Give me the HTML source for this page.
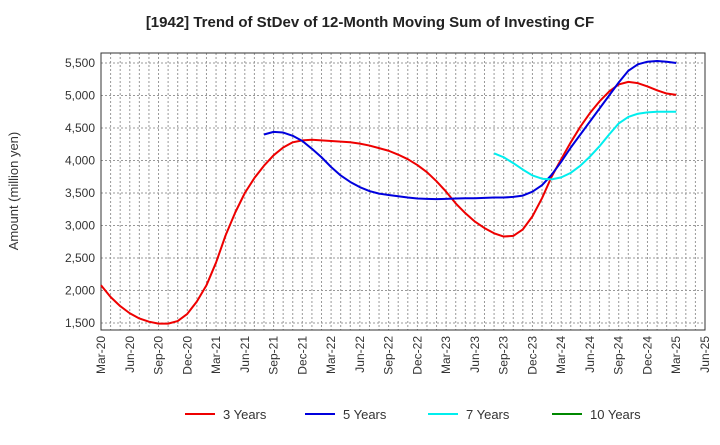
<!DOCTYPE html>
<html><head><meta charset="utf-8"><style>
body{margin:0;background:#fff;font-family:"Liberation Sans",sans-serif}
svg text{font-family:"Liberation Sans",sans-serif}
</style></head><body>
<svg id="c" width="720" height="440">
<text x="370" y="27" text-anchor="middle" font-size="15" font-weight="bold" fill="#222">[1942]  Trend of StDev of 12-Month Moving Sum of Investing CF</text>
<text transform="translate(18,191) rotate(-90)" text-anchor="middle" font-size="13" fill="#333">Amount (million yen)</text>
<g id="grid"></g><g id="axes"></g><g id="series"></g><g id="legend"></g>
</svg>
<script>
const xLabels=["Mar-20","Jun-20","Sep-20","Dec-20","Mar-21","Jun-21","Sep-21","Dec-21","Mar-22","Jun-22","Sep-22","Dec-22","Mar-23","Jun-23","Sep-23","Dec-23","Mar-24","Jun-24","Sep-24","Dec-24","Mar-25","Jun-25"];
const yTicks=[1500,2000,2500,3000,3500,4000,4500,5000,5500];
const s3Start=0;
const s3=[2080,1900,1760,1650,1570,1520,1490,1490,1530,1640,1830,2080,2430,2850,3200,3500,3730,3920,4080,4200,4280,4310,4320,4310,4300,4290,4280,4260,4230,4190,4150,4090,4020,3930,3820,3680,3520,3340,3190,3060,2960,2880,2830,2840,2940,3140,3420,3750,4020,4280,4520,4730,4910,5060,5170,5210,5190,5140,5080,5030,5010];
const s5Start=17;
const s5=[4400,4440,4430,4380,4300,4180,4050,3900,3770,3670,3590,3530,3490,3470,3450,3430,3415,3410,3405,3410,3415,3420,3420,3425,3430,3430,3440,3460,3520,3620,3780,3980,4200,4400,4600,4800,5000,5200,5380,5480,5520,5530,5520,5500];
const s7Start=41;
const s7=[4110,4050,3960,3860,3770,3720,3710,3740,3810,3920,4060,4220,4400,4570,4670,4720,4740,4750,4750,4750];
const NS="http://www.w3.org/2000/svg";
const L=101,R=705,T=53,B=330;
const xm=m=>L+m*(R-L)/63;
const y=v=>63+(5500-v)*65/1000;
function mk(tag,attrs,parent){const e=document.createElementNS(NS,tag);for(const k in attrs)e.setAttribute(k,attrs[k]);document.getElementById(parent).appendChild(e);return e;}
for(let m=1;m<63;m++){const g=mk('line',{x1:xm(m),x2:xm(m),y1:T,y2:B,stroke:'#999','stroke-dasharray':'2,2','stroke-width':1},'grid');

}
yTicks.forEach(v=>{const g=mk('line',{x1:L,x2:R,y1:y(v),y2:y(v),stroke:'#999','stroke-dasharray':'2,2'},'grid');


const t=mk('text',{x:L-6,y:y(v)+4,'text-anchor':'end','font-size':12,fill:'#333'},'axes');t.textContent=v.toLocaleString('en-US');

});
const fr=mk('rect',{x:L,y:T,width:R-L,height:B-T,fill:'none',stroke:'#333','stroke-width':1},'axes');


xLabels.forEach((s,i)=>{const x=xm(i*3);const t=mk('text',{transform:`translate(${x+4},${B+6}) rotate(-90)`,'text-anchor':'end','font-size':12,fill:'#333'},'axes');t.textContent=s;

});
function line(arr,start,col,name){const p=mk('polyline',{points:arr.map((v,i)=>xm(start+i)+','+y(v)).join(' '),fill:'none',stroke:col,'stroke-width':2,'stroke-linejoin':'round'},'series');

}
line(s3,s3Start,'#ee0000','series-3-years');
line(s5,s5Start,'#0000dd','series-5-years');
line(s7,s7Start,'#00eeee','series-7-years');
const leg=[['3 Years','#ee0000',185],['5 Years','#0000dd',305],['7 Years','#00eeee',428],['10 Years','#008800',552]];
leg.forEach(([n,c,x])=>{const l=mk('line',{x1:x,x2:x+30,y1:414,y2:414,stroke:c,'stroke-width':2},'legend');


const t=mk('text',{x:x+38,y:419,'font-size':13,fill:'#333'},'legend');t.textContent=n;

});
</script>
</body></html>
